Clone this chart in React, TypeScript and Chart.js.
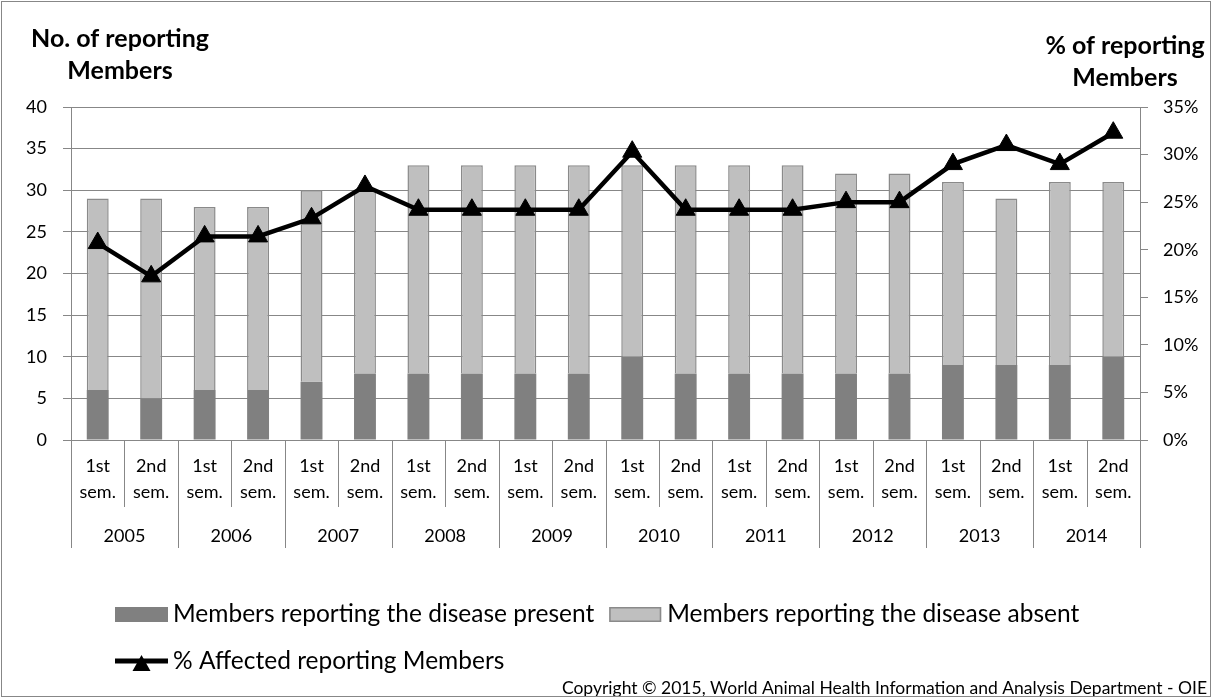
import React, { useEffect, useRef } from "react";
import { Chart, registerables } from "chart.js";

Chart.register(...registerables);

// ---------- data ----------
const semesterLabels: string[][] = [
  ["1st", "sem."], ["2nd", "sem."], ["1st", "sem."], ["2nd", "sem."],
  ["1st", "sem."], ["2nd", "sem."], ["1st", "sem."], ["2nd", "sem."],
  ["1st", "sem."], ["2nd", "sem."], ["1st", "sem."], ["2nd", "sem."],
  ["1st", "sem."], ["2nd", "sem."], ["1st", "sem."], ["2nd", "sem."],
  ["1st", "sem."], ["2nd", "sem."], ["1st", "sem."], ["2nd", "sem."],
];
const yearLabels: string[] = ["2005", "2006", "2007", "2008", "2009", "2010", "2011", "2012", "2013", "2014"];
const presentMembers: number[] = [6, 5, 6, 6, 7, 8, 8, 8, 8, 8, 10, 8, 8, 8, 8, 8, 9, 9, 9, 10];
const absentMembers: number[] = [23, 24, 22, 22, 23, 22, 25, 25, 25, 25, 23, 25, 25, 25, 24, 24, 22, 20, 22, 21];
const affectedPercent: number[] = [20.7, 17.2, 21.4, 21.4, 23.3, 26.7, 24.2, 24.2, 24.2, 24.2, 30.3, 24.2, 24.2, 24.2, 25.0, 25.0, 29.0, 31.0, 29.0, 32.3];

const legendPresent = "Members reporting the disease present";
const legendAbsent = "Members reporting the disease absent";
const legendPercent = "% Affected reporting Members";
const leftTitle = ["No. of reporting", "Members"];
const rightTitle = ["% of reporting", "Members"];
const copyrightText = "Copyright \u00A9 2015, World Animal Health Information and Analysis Department - OIE";

// ---------- styles ----------
const FONT = "Lato, 'Open Sans', sans-serif";
const GRID = "#878787";
const DARK = "#808080";
const LIGHT = "#BFBFBF";
const BAR_BORDER = "#8a8a8a";

const decorPlugin = {
  id: "decor",
  beforeDraw(chart: any) {
    const ctx: CanvasRenderingContext2D = chart.ctx;
    ctx.save();
    ctx.fillStyle = "#ffffff";
    ctx.fillRect(0, 0, chart.width, chart.height);
    ctx.restore();
  },
  afterDraw(chart: any) {
    const ctx: CanvasRenderingContext2D = chart.ctx;
    const xs = chart.scales.x;
    const area = chart.chartArea;
    const n = semesterLabels.length;
    const step = xs.getPixelForValue(1) - xs.getPixelForValue(0);

    ctx.save();
    // category separators
    ctx.strokeStyle = GRID;
    ctx.lineWidth = 1;
    for (let i = 0; i <= n; i++) {
      const px = Math.round(xs.getPixelForValue(i) - step / 2) + 0.5;
      const bottom = i % 2 === 0 ? 548 : 507;
      ctx.beginPath();
      ctx.moveTo(px, area.bottom);
      ctx.lineTo(px, bottom);
      ctx.stroke();
    }
    // year labels
    ctx.fillStyle = "#000";
    ctx.font = `18px ${FONT}`;
    ctx.textAlign = "center";
    ctx.textBaseline = "middle";
    yearLabels.forEach((y, k) => {
      const cx = (xs.getPixelForValue(2 * k) + xs.getPixelForValue(2 * k + 1)) / 2;
      ctx.fillText(y, cx, 536);
    });

    // axis titles
    ctx.font = `bold 25px ${FONT}`;
    ctx.fillText(leftTitle[0], 120, 39);
    ctx.fillText(leftTitle[1], 120, 71);
    ctx.fillText(rightTitle[0], 1125, 46);
    ctx.fillText(rightTitle[1], 1125, 78);

    // legend
    const ds = chart.data.datasets;
    ctx.font = `24.5px ${FONT}`;
    ctx.textAlign = "left";
    const row1 = 614.5;
    const row2 = 661;
    const x0 = 115;
    ctx.fillStyle = ds[0].backgroundColor;
    ctx.fillRect(x0, 607, 53, 15);
    ctx.fillStyle = "#000";
    ctx.fillText(ds[0].label, x0 + 58, row1);
    const w1 = ctx.measureText(ds[0].label).width;
    const x1 = x0 + 58 + w1 + 15;
    ctx.fillStyle = ds[1].backgroundColor;
    ctx.fillRect(x1, 607, 52, 15);
    ctx.strokeStyle = ds[1].borderColor;
    ctx.lineWidth = 1.5;
    ctx.strokeRect(x1 + 0.75, 607.75, 50.5, 13.5);
    ctx.fillStyle = "#000";
    ctx.fillText(ds[1].label, x1 + 58, row1);
    // line legend
    ctx.strokeStyle = "#000";
    ctx.lineWidth = 5;
    ctx.beginPath();
    ctx.moveTo(x0, row2);
    ctx.lineTo(x0 + 53, row2);
    ctx.stroke();
    ctx.fillStyle = "#000";
    const tcx = x0 + 26.5;
    ctx.beginPath();
    ctx.moveTo(tcx, 655);
    ctx.lineTo(tcx + 9, 671);
    ctx.lineTo(tcx - 9, 671);
    ctx.closePath();
    ctx.fill();
    ctx.fillText(ds[2].label, x0 + 58, row2);

    // copyright
    ctx.font = `17.5px ${FONT}`;
    ctx.textAlign = "right";
    ctx.fillText(copyrightText, 1207, 688);

    // outer border
    ctx.strokeStyle = GRID;
    ctx.lineWidth = 1;
    ctx.strokeRect(1.5, 1.5, 1209, 695);
    ctx.restore();
  },
};

export default function App() {
  const canvasRef = useRef<HTMLCanvasElement | null>(null);

  useEffect(() => {
    if (!canvasRef.current) return;
    const chart = new Chart(canvasRef.current, {
      type: "bar",
      data: {
        labels: semesterLabels,
        datasets: [
          {
            type: "bar",
            label: legendPresent,
            data: presentMembers,
            backgroundColor: DARK,
            borderWidth: 0,
            barPercentage: 0.41,
            categoryPercentage: 1,
            yAxisID: "y",
            order: 2,
          },
          {
            type: "bar",
            label: legendAbsent,
            data: absentMembers,
            backgroundColor: LIGHT,
            borderColor: BAR_BORDER,
            borderWidth: 1.5,
            barPercentage: 0.41,
            categoryPercentage: 1,
            yAxisID: "y",
            order: 2,
          },
          {
            type: "line",
            label: legendPercent,
            data: affectedPercent,
            borderColor: "#000",
            backgroundColor: "#000",
            borderWidth: 4.5,
            pointStyle: "triangle",
            pointRadius: 11,
            pointBorderWidth: 1,
            pointBackgroundColor: "#000",
            pointBorderColor: "#000",
            tension: 0,
            yAxisID: "y1",
            order: 0,
          } as any,
        ],
      },
      options: {
        responsive: false,
        animation: false,
        events: [],
        layout: { padding: { top: 107, bottom: 0, left: 0, right: 0 } },
        plugins: {
          legend: { display: false },
          tooltip: { enabled: false },
          title: { display: false },
        },
        scales: {
          x: {
            stacked: true,
            offset: true,
            grid: { display: false, drawTicks: false },
            border: { display: false },
            ticks: {
              autoSkip: false,
              maxRotation: 0,
              minRotation: 0,
              padding: 14,
              color: "#000",
              font: { family: FONT, size: 18, lineHeight: 1.4 },
            },
            afterFit(scale: any) {
              scale.height = 258;
            },
          },
          y: {
            stacked: true,
            position: "left",
            min: 0,
            max: 40,
            ticks: {
              stepSize: 5,
              padding: 16,
              color: "#000",
              font: { family: FONT, size: 18 },
            },
            grid: { color: GRID, lineWidth: 1, tickLength: 8, drawTicks: true },
            border: { display: true, color: GRID, width: 1 },
            afterFit(scale: any) {
              scale.width = 71;
            },
          },
          y1: {
            stacked: false,
            position: "right",
            min: 0,
            max: 35,
            ticks: {
              stepSize: 5,
              padding: 15,
              color: "#000",
              font: { family: FONT, size: 18 },
              callback: (v: any) => `${v}%`,
            },
            grid: { drawOnChartArea: false, color: GRID, lineWidth: 1, tickLength: 8, drawTicks: true },
            border: { display: true, color: GRID, width: 1 },
            afterFit(scale: any) {
              scale.width = 72;
            },
          },
        },
      },
      plugins: [decorPlugin],
    });
    return () => chart.destroy();
  }, []);

  return (
    <div style={{ position: "absolute", left: 0, top: 0, width: 1212, height: 698, background: "#fff" }}>
      <canvas ref={canvasRef} width={1212} height={698} style={{ display: "block" }} />
    </div>
  );
}
